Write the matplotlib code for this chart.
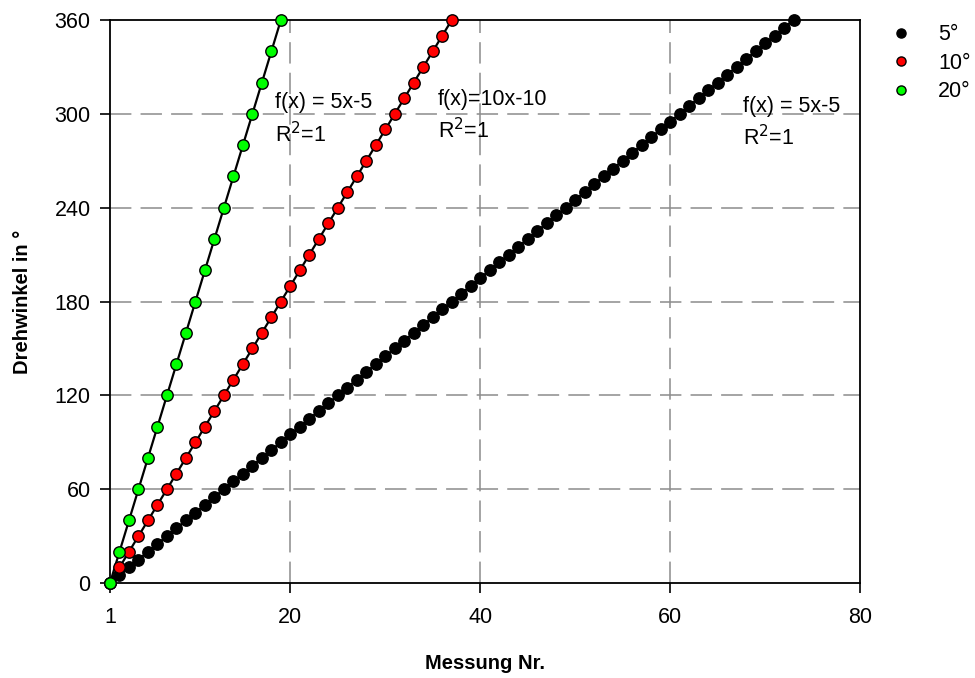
import matplotlib.pyplot as plt

plt.rcParams['font.family'] = ['Liberation Sans', 'DejaVu Sans']

# Messreihen: Messung Nr. und Drehwinkel
messung_5 = list(range(1, 74))
winkel_5 = [0, 5, 10, 15, 20, 25, 30, 35, 40, 45, 50, 55, 60, 65, 70, 75, 80, 85,
            90, 95, 100, 105, 110, 115, 120, 125, 130, 135, 140, 145, 150, 155,
            160, 165, 170, 175, 180, 185, 190, 195, 200, 205, 210, 215, 220, 225,
            230, 235, 240, 245, 250, 255, 260, 265, 270, 275, 280, 285, 290, 295,
            300, 305, 310, 315, 320, 325, 330, 335, 340, 345, 350, 355, 360]

messung_10 = list(range(1, 38))
winkel_10 = [0, 10, 20, 30, 40, 50, 60, 70, 80, 90, 100, 110, 120, 130, 140, 150,
             160, 170, 180, 190, 200, 210, 220, 230, 240, 250, 260, 270, 280, 290,
             300, 310, 320, 330, 340, 350, 360]

messung_20 = list(range(1, 20))
winkel_20 = [0, 20, 40, 60, 80, 100, 120, 140, 160, 180, 200, 220, 240, 260, 280,
             300, 320, 340, 360]

# Regressionsgeraden (Steigung, Achsenabschnitt)
fit_5 = (5, -5)
fit_10 = (10, -10)
fit_20 = (20, -20)

labels = ['5°', '10°', '20°']
colors = ['black', '#ff0000', '#00ff00']

fig = plt.figure(figsize=(9.75, 6.78), dpi=100)
ax = fig.add_axes([110 / 975, 1 - 583 / 678, 750 / 975, 563 / 678])

series = [(messung_5, winkel_5, fit_5), (messung_10, winkel_10, fit_10),
          (messung_20, winkel_20, fit_20)]

for (x, y, (m, b)), lab, col in zip(series, labels, colors):
    xs = [x[0], x[-1]]
    ax.plot(xs, [m * v + b for v in xs], color='black', lw=1.6, zorder=3)
for (x, y, fit), lab, col in zip(series, labels, colors):
    ax.plot(x, y, 'o', color=col, mec='black', mew=1.0, ms=8.2, label=lab,
            zorder=4, clip_on=False)

ax.set_xlim(1, 80)
ax.set_ylim(0, 360)
ax.set_xticks([1, 20, 40, 60, 80])
ax.set_yticks([0, 60, 120, 180, 240, 300, 360])
ax.tick_params(direction='out', length=7, width=1.2, labelsize=15.5)
ax.tick_params(axis='x', pad=10)
ax.tick_params(axis='y', pad=7)
for s in ax.spines.values():
    s.set_linewidth(1.3)

for gx in [20, 40, 60]:
    ax.axvline(gx, color='#8c8c8c', lw=1.1, dashes=(14, 6), zorder=1)
for gy in [60, 120, 180, 240, 300]:
    ax.axhline(gy, color='#8c8c8c', lw=1.1, dashes=(14, 6), zorder=1)

ax.set_xlabel('Messung Nr.', fontsize=14.5, fontweight='bold', labelpad=19)
ax.set_ylabel('Drehwinkel in °', fontsize=14.5, fontweight='bold', labelpad=16)

# Beschriftungen der Regressionen
ax.text(18.4, 307, 'f(x) = 5x-5', fontsize=15.5, va='center', zorder=5)
ax.text(18.4, 287, 'R$^2$=1', fontsize=15.5, va='center', zorder=5)
ax.text(35.5, 309, 'f(x)=10x-10', fontsize=15.5, va='center', zorder=5)
ax.text(35.5, 289, 'R$^2$=1', fontsize=15.5, va='center', zorder=5)
ax.text(67.7, 305, 'f(x) = 5x-5', fontsize=15.5, va='center', zorder=5)
ax.text(67.7, 285, 'R$^2$=1', fontsize=15.5, va='center', zorder=5)

leg = ax.legend(loc='upper left', bbox_to_anchor=(1.018, 1.027), frameon=False,
                fontsize=15.5, markerscale=0.8, handletextpad=1.3,
                labelspacing=0.35, handlelength=0.8)

plt.savefig('out.png', dpi=100)
plt.close()
